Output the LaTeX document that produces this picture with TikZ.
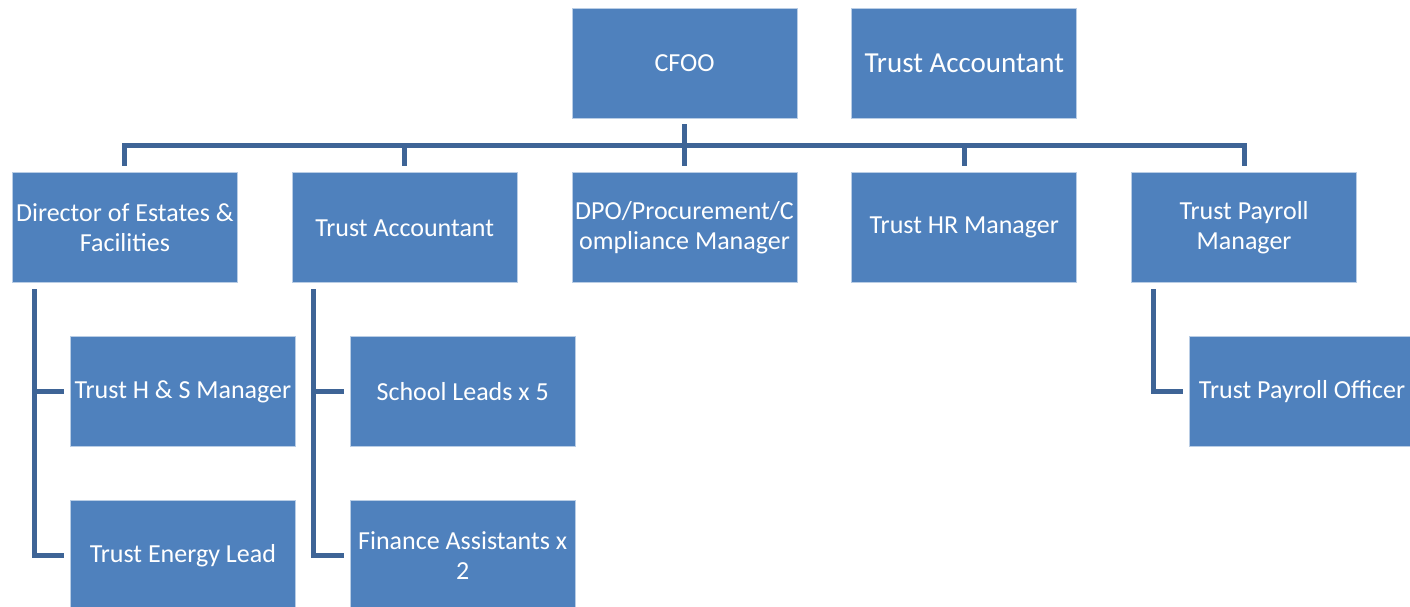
\documentclass[tikz,border=0pt]{standalone}
\usepackage{fontspec}
\setmainfont{Carlito}
\usetikzlibrary{positioning}
\definecolor{boxblue}{RGB}{79,129,189}
\definecolor{linkblue}{RGB}{62,100,150}

\begin{document}
\begin{tikzpicture}[
  x=1pt, y=1pt,
  node distance=54pt,
  box/.style={rectangle, fill=boxblue, draw=white!60!boxblue, line width=0.8pt,
    minimum width=225pt, minimum height=110pt, inner sep=0pt,
    text=white, align=center,
    font=\fontsize{26}{30}\selectfont},
  link/.style={draw=linkblue, line width=5pt}
]
\useasboundingbox (0,0) rectangle (1410,-607);
\node[box] (cfoo) at (684.5,-63) {CFOO};
\node[box, right=of cfoo, font=\fontsize{29}{34}\selectfont] (topacct) {Trust Accountant};
% second row
\node[box, below=of cfoo] (dpo) {DPO/Procurement/C\\ompliance Manager};
\node[box, left=of dpo] (acct) {Trust Accountant};
\node[box, left=of acct] (dir) {Director of Estates \&\\Facilities};
\node[box, right=of dpo] (hr) {Trust HR Manager};
\node[box, right=of hr] (pay) {Trust Payroll\\Manager};
% third row
\node[box, below=53pt of dir, xshift=58pt] (hs) {Trust H \& S Manager};
\node[box, below=53pt of hs] (energy) {Trust Energy Lead};
\node[box, below=53pt of acct, xshift=58pt] (leads) {School Leads x 5};
\node[box, below=53pt of leads] (finance) {Finance Assistants x\\2};
\node[box, below=53pt of pay, xshift=58pt] (payoff) {Trust Payroll Officer};

\foreach \n in {dir,acct,dpo,hr,pay}
  \draw[link] ([yshift=-6pt]cfoo.south) -- ++(0,-21) -| ([yshift=6pt]\n.north);
\foreach \p/\c in {dir/hs,dir/energy,acct/leads,acct/finance,pay/payoff}
  \draw[link] ([xshift=22pt,yshift=-6pt]\p.south west) |- ([xshift=-6pt]\c.west);
\end{tikzpicture}
\end{document}
